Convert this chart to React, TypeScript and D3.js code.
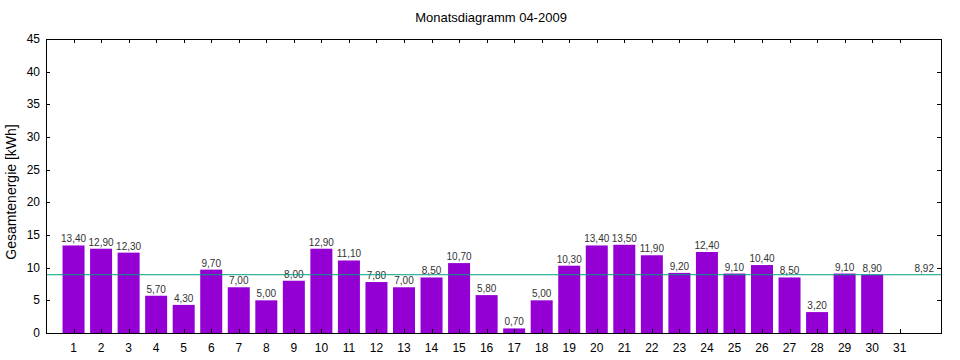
import React, { useRef, useEffect } from 'react';
import * as d3 from 'd3';

// Tagesertrag April 2009
const days = d3.range(1, 32);
const values = [13.4, 12.9, 12.3, 5.7, 4.3, 9.7, 7.0, 5.0, 8.0, 12.9, 11.1, 7.8, 7.0, 8.5, 10.7, 5.8, 0.7, 5.0, 10.3, 13.4, 13.5, 11.9, 9.2, 12.4, 9.1, 10.4, 8.5, 3.2, 9.1, 8.9];
const average = 8.92;
const yTicks = [0, 5, 10, 15, 20, 25, 30, 35, 40, 45];
const title = 'Monatsdiagramm 04-2009';
const yLabel = 'Gesamtenergie [kWh]';

const fmt = (v: number) => v.toFixed(2).replace('.', ',');

const App = () => {
  const svgRef = useRef<SVGSVGElement>(null);

  useEffect(() => {
    const width = 960;
    const height = 360;
    const left = 46, right = 941, top = 39, bottom = 333;

    const svg = d3.select(svgRef.current);
    svg.selectAll('*').remove();
    svg.attr('width', width).attr('height', height);

    const x = d3.scaleLinear().domain([0, 32.5]).range([left, right]);
    const y = d3.scaleLinear().domain([0, 45]).range([bottom, top]);
    const barW = 22;
    const font = 'Liberation Sans, Arial, sans-serif';

    svg.append('rect').attr('width', width).attr('height', height).attr('fill', '#fff');

    // bars
    svg.selectAll('.bar')
      .data(values)
      .enter()
      .append('rect')
      .attr('x', (d, i) => x(i + 1) - barW / 2)
      .attr('y', d => y(d))
      .attr('width', barW)
      .attr('height', d => bottom - y(d))
      .attr('fill', '#9400d3');

    // value labels
    svg.selectAll('.lbl')
      .data(values)
      .enter()
      .append('text')
      .attr('x', (d, i) => x(i + 1))
      .attr('y', d => y(d) - 3)
      .attr('text-anchor', 'middle')
      .style('font-family', font)
      .style('font-size', '10px')
      .attr('fill', '#333')
      .text(d => fmt(d));

    // average line
    svg.append('line')
      .attr('x1', left).attr('x2', right)
      .attr('y1', y(average)).attr('y2', y(average))
      .attr('stroke', '#00a080').attr('stroke-width', 1);
    svg.append('text')
      .attr('x', x(32) - 3)
      .attr('y', y(average) - 3)
      .attr('text-anchor', 'middle')
      .style('font-family', font)
      .style('font-size', '10px')
      .attr('fill', '#333')
      .text(fmt(average));

    // frame
    svg.append('rect')
      .attr('x', left + 0.5).attr('y', top + 0.5)
      .attr('width', right - left).attr('height', bottom - top)
      .attr('fill', 'none').attr('stroke', '#000');

    // y ticks (both sides, inward)
    const g = svg.append('g').attr('stroke', '#000');
    yTicks.forEach(t => {
      const py = Math.round(y(t)) + 0.5;
      g.append('line').attr('x1', left).attr('x2', left + 4).attr('y1', py).attr('y2', py);
      g.append('line').attr('x1', right - 4).attr('x2', right).attr('y1', py).attr('y2', py);
    });
    // x ticks (top and bottom, inward)
    days.forEach(d => {
      const px = Math.round(x(d)) + 0.5;
      g.append('line').attr('x1', px).attr('x2', px).attr('y1', top).attr('y2', top + 4);
      g.append('line').attr('x1', px).attr('x2', px).attr('y1', bottom - 4).attr('y2', bottom);
    });

    svg.selectAll('.ytl')
      .data(yTicks)
      .enter()
      .append('text')
      .attr('x', left - 6)
      .attr('y', d => y(d) + 4)
      .attr('text-anchor', 'end')
      .style('font-family', font)
      .style('font-size', '12px')
      .text(d => d);

    svg.selectAll('.xtl')
      .data(days)
      .enter()
      .append('text')
      .attr('x', d => x(d))
      .attr('y', bottom + 19)
      .attr('text-anchor', 'middle')
      .style('font-family', font)
      .style('font-size', '12px')
      .text(d => d);

    svg.append('text')
      .attr('x', 491)
      .attr('y', 22)
      .attr('text-anchor', 'middle')
      .style('font-family', font)
      .style('font-size', '13px')
      .text(title);

    svg.append('text')
      .attr('transform', `translate(16,${(top + bottom) / 2 + 6}) rotate(-90)`)
      .attr('text-anchor', 'middle')
      .style('font-family', font)
      .style('font-size', '14px')
      .text(yLabel);
  }, []);

  return (
    <svg ref={svgRef} style={{ position: 'absolute', left: 0, top: 0 }}></svg>
  );
};

export default App;
